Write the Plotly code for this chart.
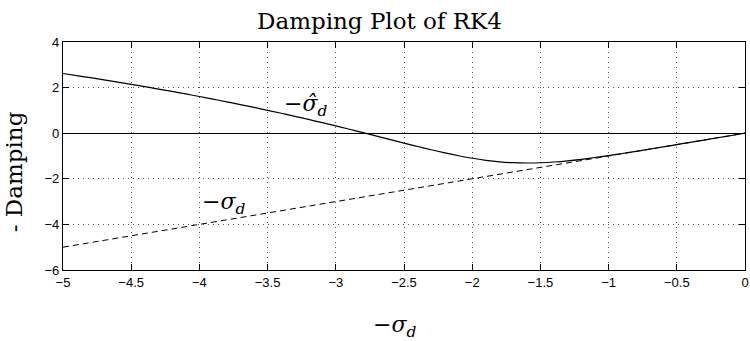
import plotly.graph_objects as go

# Damping of the RK4 amplification factor along the negative real axis
sigma = [-5.0, -4.9, -4.8, -4.7, -4.6, -4.5, -4.4, -4.3, -4.2, -4.1,
         -4.0, -3.9, -3.8, -3.7, -3.6, -3.5, -3.4, -3.3, -3.2, -3.1,
         -3.0, -2.9, -2.8, -2.7, -2.6, -2.5, -2.4, -2.3, -2.2, -2.1,
         -2.0, -1.9, -1.8, -1.7, -1.6, -1.5, -1.4, -1.3, -1.2, -1.1,
         -1.0, -0.9, -0.8, -0.7, -0.6, -0.5, -0.4, -0.3, -0.2, -0.1, 0.0]
damping_rk4 = [2.618, 2.527, 2.434, 2.339, 2.242, 2.143, 2.041, 1.937, 1.831, 1.721,
               1.609, 1.495, 1.377, 1.256, 1.132, 1.005, 0.874, 0.740, 0.603, 0.462,
               0.319, 0.172, 0.022, -0.129, -0.281, -0.433, -0.583, -0.727, -0.864, -0.989,
               -1.099, -1.188, -1.254, -1.294, -1.308, -1.297, -1.263, -1.211, -1.144, -1.067,
               -0.981, -0.890, -0.795, -0.698, -0.599, -0.500, -0.400, -0.300, -0.200, -0.100, 0.0]

# Exact damping (straight line)
sigma_exact = [-5.0, 0.0]
damping_exact = [-5.0, 0.0]

x_ticks = [-5, -4.5, -4, -3.5, -3, -2.5, -2, -1.5, -1, -0.5, 0]
y_ticks = [-6, -4, -2, 0, 2, 4]

serif = "DejaVu Serif, serif"
sans = "Liberation Sans, Arial, Helvetica, sans-serif"


def tick_text(values):
    return [("−" + f"{abs(v):g}") if v < 0 else f"{v:g}" for v in values]


fig = go.Figure()
fig.add_trace(go.Scatter(x=sigma, y=damping_rk4, mode="lines",
                         line=dict(color="black", width=1.2, shape="spline"),
                         showlegend=False))
fig.add_trace(go.Scatter(x=sigma_exact, y=damping_exact, mode="lines",
                         line=dict(color="black", width=1, dash="6px,4px"),
                         showlegend=False))

axis_common = dict(
    showline=True, linecolor="black", linewidth=1.3, mirror="ticks",
    ticks="inside", ticklen=6, tickcolor="black", tickwidth=1,
    showgrid=True, gridcolor="#555555", gridwidth=1, griddash="1px,4px",
    tickfont=dict(family=sans, size=13, color="black"),
    ticklabeloverflow="allow",
)

fig.update_xaxes(range=[-5, 0], tickvals=x_ticks, ticktext=tick_text(x_ticks),
                 zeroline=False, **axis_common)
fig.update_yaxes(range=[-6, 4], tickvals=y_ticks, ticktext=tick_text(y_ticks),
                 zeroline=True, zerolinecolor="black", zerolinewidth=1,
                 **axis_common)

label_font = dict(family=serif, size=22, color="black")

fig.update_layout(
    width=750, height=341,
    margin=dict(l=63, r=1, t=42, b=71),
    paper_bgcolor="white", plot_bgcolor="white",
    annotations=[
        dict(text="Damping Plot of RK4", xref="paper", yref="paper",
             x=(381 - 63) / 686, y=1 + (42 - 21) / 228, showarrow=False,
             xanchor="center", yanchor="middle",
             font=dict(family=serif, size=23, color="black")),
        dict(text="- Damping", xref="paper", yref="paper",
             x=-(63 - 14) / 686, y=(270 - 172) / 228, textangle=-90,
             showarrow=False, xanchor="center", yanchor="middle",
             font=dict(family=serif, size=23, color="black")),
        dict(text="−<i>σ</i><sub><i>d</i></sub>", xref="paper", yref="paper",
             x=(396 - 63) / 686, y=-(326 - 270) / 228, showarrow=False,
             xanchor="center", yanchor="middle", font=label_font),
        dict(text="−<i>σ̂</i><sub><i>d</i></sub>", x=-3.22, y=1.2,
             showarrow=False, xanchor="center", yanchor="middle",
             font=label_font),
        dict(text="−<i>σ</i><sub><i>d</i></sub>", x=-3.82, y=-3.1,
             showarrow=False, xanchor="center", yanchor="middle",
             font=label_font),
    ],
)

fig.write_html("out.html")
